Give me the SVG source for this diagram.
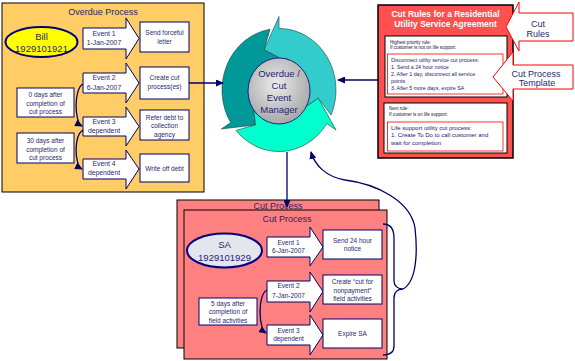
<svg xmlns="http://www.w3.org/2000/svg" width="575" height="361" viewBox="0 0 575 361">
<defs>
<style>
text{font-family:"Liberation Sans",Arial,sans-serif;fill:#1f1f70}
.t65{font-size:6.5px;text-anchor:middle}
.t7{font-size:6.8px;text-anchor:middle}
.ttl{font-size:9px;text-anchor:middle}
.big{font-size:9.5px;text-anchor:middle}
.box{fill:#fff;stroke:#000066;stroke-width:1}
.ev{fill:#fff;stroke:#000066;stroke-width:1}
.con{fill:none;stroke:#000066;stroke-width:1.3}
.sm{font-size:4.6px;fill:#111133}
.rt{font-size:5.3px;fill:#1a1a6e}
.rt2{font-size:6px;fill:#1a1a6e}
.call{fill:#fff;stroke:#ff0000;stroke-width:1}
.ring{stroke:#224444;stroke-width:0.6}
</style>
<marker id="ah" markerWidth="8" markerHeight="7" refX="7" refY="3.5" orient="auto" markerUnits="userSpaceOnUse">
<path d="M0,0 L8,3.5 L0,7 Z" fill="#000066"/>
</marker>
<radialGradient id="gray" cx="45%" cy="40%" r="60%">
<stop offset="0" stop-color="#ececec"/>
<stop offset="1" stop-color="#a8a8a8"/>
</radialGradient>
</defs>

<!-- Overdue process panel -->
<g id="overdue-process">
<rect x="2" y="3" width="202" height="189" fill="#ffcc66" stroke="#000" stroke-width="1"/>
<text class="ttl" x="103" y="15">Overdue Process</text>
</g>
<g id="bill">
<ellipse cx="41.5" cy="42" rx="36" ry="15" fill="#ffff00" stroke="#000080" stroke-width="2"/>
<text class="big" x="41.5" y="40">Bill</text>
<text class="big" x="41.5" y="52">1929101921</text>
</g>
<g id="event1">
<path class="ev" d="M83 28 H126 V18 L139 38.5 L126 59 V49 H83 Z"/>
<text class="t7" x="104" y="35.5">Event 1</text>
<text class="t7" x="104" y="45">1-Jan-2007</text>
</g>
<g id="event2">
<path class="ev" d="M83 73 H126 V63 L139 83 L126 103 V93 H83 Z"/>
<text class="t7" x="104" y="80">Event 2</text>
<text class="t7" x="104" y="89.5">6-Jan-2007</text>
</g>
<g id="event3">
<path class="ev" d="M83 117 H126 V107 L139 126.5 L126 146 V136 H83 Z"/>
<text class="t7" x="104" y="124">Event 3</text>
<text class="t7" x="104" y="133">dependent</text>
</g>
<g id="event4">
<path class="ev" d="M83 159 H126 V150 L139 169 L126 189 V179 H83 Z"/>
<text class="t7" x="104" y="166">Event 4</text>
<text class="t7" x="104" y="175">dependent</text>
</g>
<g id="send-forceful-letter">
<rect class="box" x="140" y="22" width="49" height="30"/>
<text class="t65" x="164.5" y="35">Send forceful</text>
<text class="t65" x="164.5" y="44">letter</text>
</g>
<g id="create-cut-process">
<rect class="box" x="140" y="67" width="49" height="32"/>
<text class="t65" x="164.5" y="79.5">Create cut</text>
<text class="t65" x="164.5" y="89">process(es)</text>
</g>
<g id="refer-debt">
<rect class="box" x="140" y="110" width="49" height="30"/>
<text class="t65" x="164.5" y="119.5">Refer debt to</text>
<text class="t65" x="164.5" y="128">collection</text>
<text class="t65" x="164.5" y="136.5">agency</text>
</g>
<g id="write-off-debt">
<rect class="box" x="140" y="154" width="49" height="28"/>
<text class="t65" x="164.5" y="170.5">Write off debt</text>
</g>
<g id="zero-days">
<rect class="box" x="17" y="88" width="57" height="29"/>
<text class="t65" x="45.5" y="97">0 days after</text>
<text class="t65" x="45.5" y="105.5">completion of</text>
<text class="t65" x="45.5" y="114">cut process</text>
</g>
<g id="thirty-days">
<rect class="box" x="17" y="133" width="57" height="30"/>
<text class="t65" x="45.5" y="143">30 days after</text>
<text class="t65" x="45.5" y="151.5">completion of</text>
<text class="t65" x="45.5" y="160">cut process</text>
</g>

<!-- Cut rules panel -->
<g id="cut-rules-panel">
<rect x="378" y="5" width="135" height="153" fill="#ff5050" stroke="#000" stroke-width="1.5"/>
<text x="445.5" y="16.5" font-size="8.5" font-weight="bold" text-anchor="middle" style="fill:#fff">Cut Rules for a Residential</text>
<text x="445.5" y="26.5" font-size="8.5" font-weight="bold" text-anchor="middle" style="fill:#fff">Utility Service Agreement</text>
<rect x="385" y="36" width="122" height="61" fill="#fff" stroke="#000" stroke-width="1"/>
<text class="sm" x="390" y="43.5">Highest priority rule:</text>
<text class="sm" x="390" y="48.5">If customer is not on life support:</text>
<rect x="387.5" y="54" width="115.5" height="40" fill="#fff" stroke="#ff0000" stroke-width="0.8"/>
<text class="rt" x="391" y="62">Disconnect utility service cut process:</text>
<text class="rt" x="391" y="69">1. Send a 24 hour notice</text>
<text class="rt" x="391" y="76">2. After 1 day, disconnect all service</text>
<text class="rt" x="391" y="83">points</text>
<text class="rt" x="391" y="90">3. After 5 more days, expire SA</text>
<rect x="384" y="103" width="123" height="50" fill="#fff" stroke="#000" stroke-width="1"/>
<text class="sm" x="389" y="110">Next rule:</text>
<text class="sm" x="389" y="116">If customer is on life support:</text>
<rect x="387.5" y="122" width="115.5" height="29" fill="#fff" stroke="#ff0000" stroke-width="0.8"/>
<text class="rt2" x="391" y="129.5">Life support utility cut process:</text>
<text class="rt2" x="391" y="137">1. Create To Do to call customer and</text>
<text class="rt2" x="391" y="144.5">wait for completion</text>
</g>
<g id="cut-rules-callout">
<path class="call" d="M519 13 H573 V41 H519 V51 L506 27 L519 2 Z"/>
<text x="538" y="26.5" font-size="9" text-anchor="middle">Cut</text>
<text x="538" y="36.5" font-size="9" text-anchor="middle">Rules</text>
</g>
<g id="cut-process-template-callout">
<path class="call" d="M513 65 H573 V89 H513 V101 L493 77 L513 52 Z"/>
<text x="536" y="76.5" font-size="9" text-anchor="middle">Cut Process</text>
<text x="537" y="86" font-size="9" text-anchor="middle">Template</text>
</g>

<!-- Event manager cycle -->
<g id="event-manager">
<g transform="translate(279,90) scale(1,1.08)">
<path class="ring" fill="#33cccc" d="M52.07 23.18 A57 57 0 0 0 0 -57 L0 -68 L-14.98 -37.09 L0 -30 A30 30 0 0 1 25.16 16.34 L39.27 7.63 Z"/>
<path class="ring" fill="#009999" d="M-8.92 -56.3 A57 57 0 0 0 -48.34 30.2 L-57.67 36.03 L-23.51 32.36 L-25.44 15.9 A30 30 0 0 1 0 -30 L-14.98 -37.09 Z"/>
<path class="ring" fill="#00ffcc" d="M-43.02 37.4 A57 57 0 0 0 47.81 31.04 L57.03 37.03 L39.27 7.63 L25.16 16.34 A30 30 0 0 1 -25.44 15.9 L-23.51 32.36 Z"/>
</g>
<ellipse cx="279" cy="91" rx="31" ry="33" fill="url(#gray)" stroke="#000080" stroke-width="0.8"/>
<text class="big" x="279" y="76.5">Overdue /</text>
<text class="big" x="279" y="88.5">Cut</text>
<text class="big" x="279" y="100.5">Event</text>
<text class="big" x="279" y="112.5">Manager</text>
</g>

<!-- Cut process panels -->
<g id="cut-process-back">
<rect x="177" y="200" width="202" height="148" fill="#ff8080" stroke="#000" stroke-width="1"/>
<text class="ttl" x="278" y="209">Cut Process</text>
</g>
<g id="cut-process-front">
<rect x="184" y="210" width="203" height="149" fill="#ff8080" stroke="#000" stroke-width="1"/>
<text class="ttl" x="287" y="221.5">Cut Process</text>
</g>
<g id="sa">
<ellipse cx="224.5" cy="250.5" rx="37.5" ry="17" fill="#e4e6ee" stroke="#000080" stroke-width="2"/>
<text class="big" x="224.5" y="248">SA</text>
<text class="big" x="224.5" y="260.5">1929101929</text>
</g>
<g id="cp-event1">
<path class="ev" d="M267 237 H310 V227 L323 247 L310 266 V257 H267 Z"/>
<text class="t65" x="288.5" y="244.5">Event 1</text>
<text class="t65" x="288.5" y="252.5">6-Jan-2007</text>
</g>
<g id="cp-event2">
<path class="ev" d="M267 281 H310 V272 L323 291.5 L310 312 V302 H267 Z"/>
<text class="t65" x="288.5" y="288">Event 2</text>
<text class="t65" x="288.5" y="297.5">7-Jan-2007</text>
</g>
<g id="cp-event3">
<path class="ev" d="M267 325 H310 V315 L323 335 L310 355 V345 H267 Z"/>
<text class="t65" x="288.5" y="333">Event 3</text>
<text class="t65" x="288.5" y="341">dependent</text>
</g>
<g id="send-24-hour-notice">
<rect class="box" x="323" y="230" width="59" height="29"/>
<text class="t65" x="352.5" y="242.5">Send 24 hour</text>
<text class="t65" x="352.5" y="251">notice</text>
</g>
<g id="create-field-activities">
<rect class="box" x="323" y="275" width="59" height="29"/>
<text class="t65" x="352.5" y="284">Create “cut for</text>
<text class="t65" x="352.5" y="292.5">nonpayment”</text>
<text class="t65" x="352.5" y="300.5">field activities</text>
</g>
<g id="expire-sa">
<rect class="box" x="323" y="319" width="59" height="29"/>
<text class="t65" x="352.5" y="336">Expire SA</text>
</g>
<g id="five-days">
<rect class="box" x="199" y="298" width="58" height="27"/>
<text class="t65" x="228" y="305.5">5 days after</text>
<text class="t65" x="228" y="314">completion of</text>
<text class="t65" x="228" y="322.5">field activities</text>
</g>

<!-- Connectors -->
<g id="connectors">
<path class="con" d="M83 84 C74 88 74 122 82 126" marker-end="url(#ah)"/>
<path class="con" d="M83 130 C74 135 74 165 82 169" marker-end="url(#ah)"/>
<path class="con" d="M267 290 C258 295 258 328 266 333" marker-end="url(#ah)"/>
<path class="con" d="M189 83 H223" marker-end="url(#ah)"/>
<path class="con" d="M378 80 H338" marker-end="url(#ah)"/>
<path class="con" d="M287 152 V207" marker-end="url(#ah)"/>
<path class="con" d="M383 224 C391 224 394 229 394 238 L394 281 C394 286 398 289 403 289 C398 289 394 292 394 298 L394 346 C394 352 390 355 383 355"/>
<path class="con" d="M403 289 C416 282 418 255 415 228 C411 202 378 184 345 180 C327 177 315 166 311 152" marker-end="url(#ah)"/>
</g>
</svg>
